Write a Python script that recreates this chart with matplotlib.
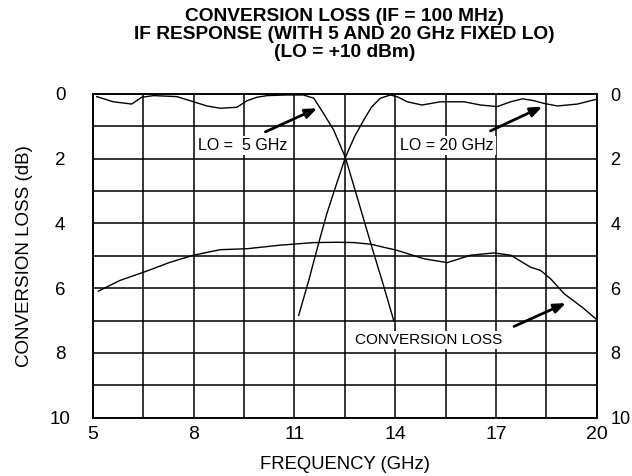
import matplotlib
matplotlib.use("Agg")
import matplotlib.pyplot as plt

plt.rcParams['font.family'] = ['Liberation Sans', 'DejaVu Sans']

# ---- data ----
lo5_freq = [5.12, 5.61, 6.16, 6.26, 6.46, 6.81, 7.5, 8.0, 8.4, 8.8, 9.29, 9.59, 9.89,
            10.19, 10.78, 11.27, 11.58, 11.87, 12.17, 12.52, 12.9, 13.3, 13.61, 13.96]
lo5_loss = [0.08, 0.24, 0.31, 0.24, 0.10, 0.05, 0.08, 0.24, 0.37, 0.44, 0.41, 0.21, 0.10,
            0.05, 0.03, 0.03, 0.13, 0.60, 1.11, 1.96, 3.29, 4.70, 5.76, 7.00]

lo20_freq = [11.13, 11.43, 11.70, 11.97, 12.25, 12.52, 12.80, 13.07, 13.30, 13.56, 13.86,
             14.10, 14.36, 14.80, 15.35, 16.05, 16.54, 17.04, 17.44, 17.79, 18.10, 18.43,
             18.83, 19.43, 20.0]
lo20_loss = [6.84, 5.76, 4.70, 3.69, 2.80, 1.96, 1.30, 0.80, 0.40, 0.13, 0.03,
             0.10, 0.24, 0.34, 0.24, 0.24, 0.34, 0.39, 0.24, 0.15, 0.20, 0.29,
             0.37, 0.31, 0.16]

cl_freq = [5.17, 5.81, 6.61, 7.30, 8.00, 8.79, 9.59, 10.58, 11.58, 12.30, 12.77, 13.27,
           14.06, 14.86, 15.55, 16.25, 16.94, 17.44, 18.03, 18.33, 18.63, 19.03, 19.62, 20.0]
cl_loss = [6.09, 5.76, 5.47, 5.20, 4.98, 4.81, 4.78, 4.67, 4.59, 4.58, 4.59, 4.64,
           4.83, 5.09, 5.21, 4.98, 4.91, 4.98, 5.35, 5.45, 5.71, 6.17, 6.63, 6.97]

x_ticks = [5, 8, 11, 14, 17, 20]
x_minor = [6.5, 9.5, 12.5, 15.5, 18.5]
y_ticks = [0, 2, 4, 6, 8, 10]
y_minor = [1, 3, 5, 7, 9]

fig = plt.figure(figsize=(6.32, 4.76), dpi=100)
ax = fig.add_axes([92.7/632, 1-417.7/476, (596.7-92.7)/632, (417.7-94)/476])

ax.plot(lo5_freq, lo5_loss, color='black', lw=1.0, zorder=3)
ax.plot(lo20_freq, lo20_loss, color='black', lw=1.0, zorder=3)
ax.plot(cl_freq, cl_loss, color='black', lw=1.0, zorder=3)

ax.set_xlim(5, 20)
ax.set_ylim(10, 0)
ax.set_xticks(x_ticks)
ax.set_xticks(x_minor, minor=True)
ax.set_yticks(y_ticks)
ax.set_yticks(y_minor, minor=True)
ax.grid(True, which='both', color='black', lw=1.1, zorder=1)
ax.set_axisbelow(True)
for s in ax.spines.values():
    s.set_linewidth(1.1)

ax.tick_params(which='both', length=0)
ax.tick_params(axis='x', labelsize=14, pad=6)
ax.tick_params(axis='y', labelsize=13.5, pad=23.5)
for lab in ax.get_yticklabels():
    lab.set_horizontalalignment('center')

ax2 = ax.twinx()
ax2.set_ylim(10, 0)
ax2.set_yticks(y_ticks)
ax2.tick_params(axis='y', length=0, labelsize=13, pad=10)
for s in ax2.spines.values():
    s.set_linewidth(1.1)

ax.set_xlabel("FREQUENCY (GHz)", fontsize=13.3, labelpad=9)
ax.set_ylabel("CONVERSION LOSS (dB)", fontsize=13.5, labelpad=12)

fig.text(344.7/632, 1-8/476, "CONVERSION LOSS (IF = 100 MHz)\nIF RESPONSE (WITH 5 AND 20 GHz FIXED LO)\n(LO = +10 dBm)",
         ha='center', va='top', fontsize=13.8, fontweight='bold', linespacing=1.08)

bb = dict(facecolor='white', edgecolor='none', pad=1.5)
ax.text(8.12, 1.6, "LO =  5 GHz", fontsize=11.5, ha='left', va='center', bbox=bb, zorder=4)
ax.text(14.16, 1.6, "LO = 20 GHz", fontsize=11.5, ha='left', va='center', bbox=bb, zorder=4)
ax.text(12.82, 7.6, "CONVERSION LOSS", fontsize=11, ha='left', va='center', bbox=bb, zorder=4)

ap = dict(arrowstyle='-|>,head_length=0.7,head_width=0.28', lw=2, color='black',
          shrinkA=0, shrinkB=0)
ax.annotate('', xy=(11.68, 0.44), xytext=(10.14, 1.17), arrowprops=ap, zorder=5)
ax.annotate('', xy=(18.38, 0.39), xytext=(16.84, 1.14), arrowprops=ap, zorder=5)
ax.annotate('', xy=(19.08, 6.46), xytext=(17.54, 7.18), arrowprops=ap, zorder=5)

fig.savefig("out.png", dpi=100)
